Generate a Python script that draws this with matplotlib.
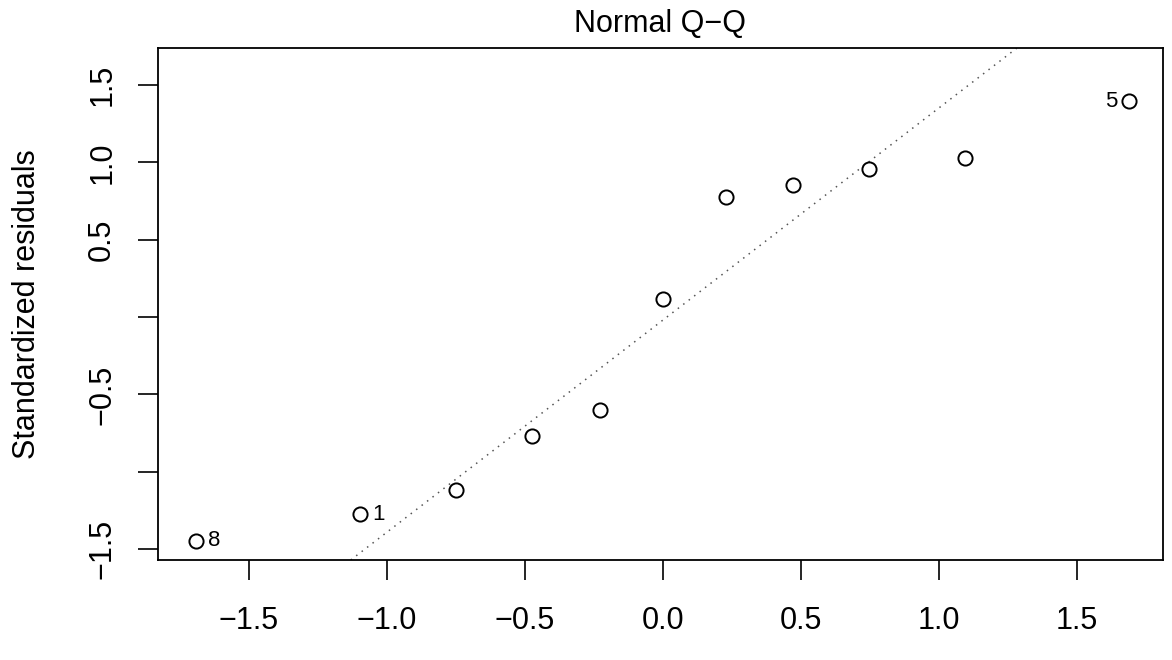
import matplotlib
matplotlib.use("Agg")
import matplotlib.pyplot as plt

plt.rcParams['font.family'] = ['Liberation Sans', 'DejaVu Sans']

# theoretical quantiles and standardized residuals
theo = [-1.691, -1.097, -0.748, -0.473, -0.229, 0.0, 0.229, 0.473, 0.748, 1.097, 1.691]
resid = [-1.448, -1.274, -1.119, -0.769, -0.601, 0.116, 0.776, 0.853, 0.957, 1.028, 1.397]
# labelled extreme points: (label, x, y, side)
labels = [("8", -1.691, -1.448, "right"), ("1", -1.097, -1.274, "right"), ("5", 1.691, 1.397, "left")]
line_slope = 1.371
line_icept = -0.02

yticks = [-1.5, -1.0, -0.5, 0.0, 0.5, 1.0, 1.5]
ytick_labels = ["\u22121.5", "", "\u22120.5", "", "0.5", "1.0", "1.5"]
xticks = [-1.5, -1.0, -0.5, 0.0, 0.5, 1.0, 1.5]

fig = plt.figure(figsize=(11.72, 6.6), dpi=100)
ax = fig.add_axes([0.1348, 0.1515, 0.8572, 0.7755])

ax.plot(theo, resid, 'o', mfc='white', mec='black', ms=10.2, mew=1.4, zorder=3)
ax.axline((0, line_icept), slope=line_slope, color='#555555', lw=1.1, ls=(0, (1, 3.5)), zorder=2)

for lab, x, y, side in labels:
    off = 8.5 if side == "right" else -8.5
    ax.annotate(lab, (x, y), xytext=(off, 0), textcoords='offset points',
                ha='left' if side == "right" else 'right', va='center', fontsize=16)

ax.set_xlim(-1.83, 1.812)
ax.set_ylim(-1.571, 1.739)
ax.set_xticks(xticks)
ax.set_xticklabels([f"{t:.1f}".replace("-", "\u2212") for t in xticks])
ax.set_yticks(yticks)
ax.set_yticklabels(ytick_labels, rotation=90, va='center')
ax.tick_params(axis='both', length=14.4, width=1.2, labelsize=22)
ax.tick_params(axis='x', pad=19)
ax.tick_params(axis='y', pad=15)
for s in ax.spines.values():
    s.set_linewidth(1.3)

ax.set_title("Normal Q\u2212Q", fontsize=22, pad=12)
ax.set_ylabel("Standardized residuals", fontsize=22, va='center')
ax.yaxis.set_label_coords(-0.130, 0.5)

fig.savefig("out.png", dpi=100)
